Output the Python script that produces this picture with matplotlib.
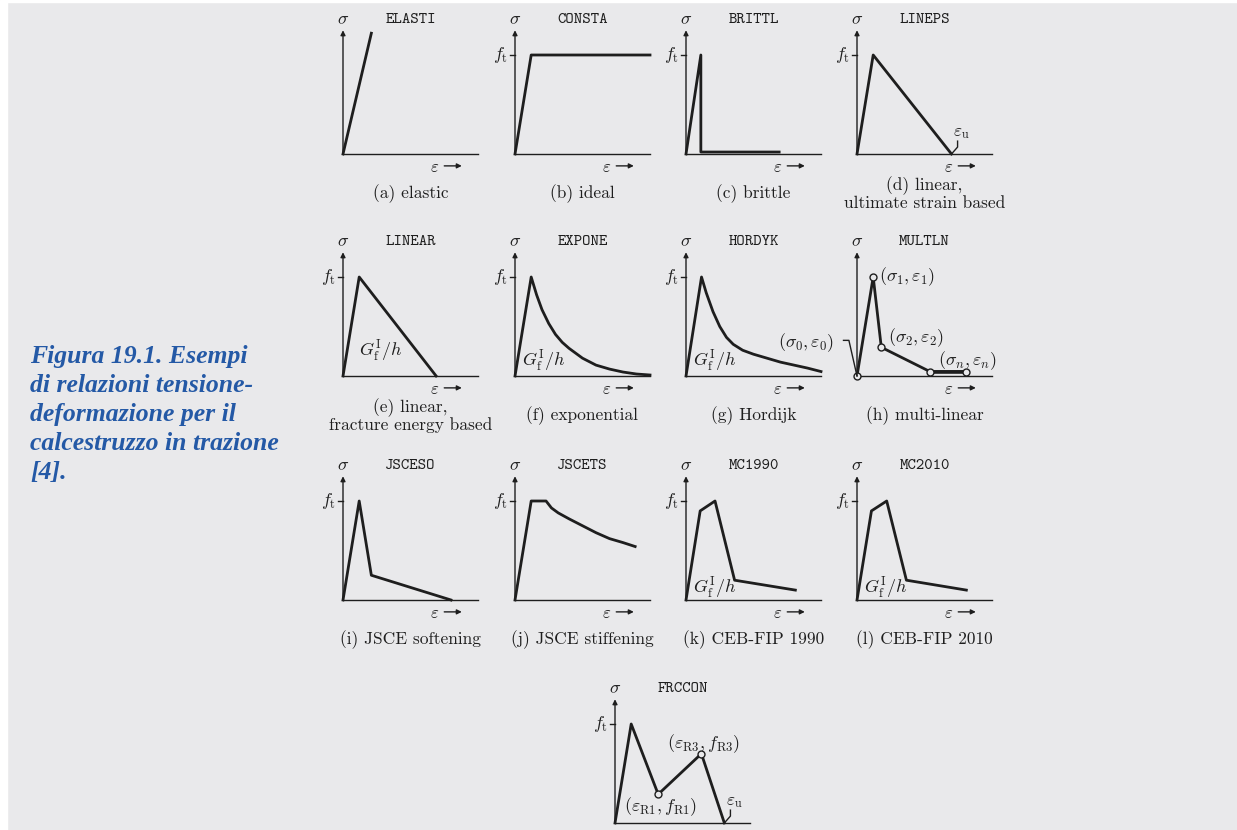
import matplotlib.pyplot as plt
from matplotlib.patches import Rectangle

plt.rcParams['mathtext.fontset'] = 'cm'

# --- data (x: strain, scaled so the axis is 1 long; y: stress, f_t = 1) ---
elasti_x = [0, 0.21]
elasti_y = [0, 1.22]
consta_x = [0, 0.12, 1.0]
consta_y = [0, 1, 1]
brittl_x = [0, 0.11, 0.11, 0.69]
brittl_y = [0, 1, 0.02, 0.02]
lineps_x = [0, 0.12, 0.70]
lineps_y = [0, 1, 0]
linear_x = [0, 0.12, 0.69]
linear_y = [0, 1, 0]
expone_x = [0, 0.12, 0.16, 0.20, 0.25, 0.30, 0.35, 0.40, 0.50, 0.60, 0.70, 0.80, 0.90, 1.0]
expone_y = [0, 1, 0.82, 0.67, 0.53, 0.42, 0.34, 0.28, 0.18, 0.11, 0.07, 0.04, 0.02, 0.01]
hordyk_x = [0, 0.115, 0.15, 0.20, 0.25, 0.30, 0.35, 0.42, 0.50, 0.60, 0.70, 0.80, 0.90, 1.0]
hordyk_y = [0, 1, 0.84, 0.65, 0.50, 0.39, 0.32, 0.26, 0.22, 0.18, 0.14, 0.11, 0.08, 0.045]
multln_x = [0, 0.12, 0.18, 0.54, 0.805]
multln_y = [0, 1, 0.29, 0.045, 0.045]
jsceso_x = [0, 0.12, 0.21, 0.80]
jsceso_y = [0, 1, 0.25, 0]
jscets_x = [0, 0.12, 0.23, 0.27, 0.32, 0.40, 0.50, 0.60, 0.70, 0.80, 0.89]
jscets_y = [0, 1, 1, 0.93, 0.88, 0.82, 0.75, 0.68, 0.62, 0.58, 0.54]
mc1990_x = [0, 0.105, 0.215, 0.36, 0.81]
mc1990_y = [0, 0.90, 1, 0.20, 0.10]
mc2010_x = [0, 0.107, 0.22, 0.366, 0.81]
mc2010_y = [0, 0.90, 1, 0.20, 0.10]
frccon_x = [0, 0.12, 0.32, 0.64, 0.81]
frccon_y = [0, 1, 0.29, 0.70, 0]

titles = ['ELASTI', 'CONSTA', 'BRITTL', 'LINEPS',
          'LINEAR', 'EXPONE', 'HORDYK', 'MULTLN',
          'JSCESO', 'JSCETS', 'MC1990', 'MC2010', 'FRCCON']
captions = ['(a) elastic', '(b) ideal', '(c) brittle', '(d) linear,\nultimate strain based',
            '(e) linear,\nfracture energy based', '(f) exponential', '(g) Hordijk', '(h) multi-linear',
            '(i) JSCE softening', '(j) JSCE stiffening', '(k) CEB-FIP 1990', '(l) CEB-FIP 2010', None]
side_text = ['Figura 19.1. Esempi', 'di relazioni tensione-', 'deformazione per il',
             'calcestruzzo in trazione', '[4].']

W, H = 1237, 830
ink = '#1e1e1e'
bg = '#e9e9eb'
blue = '#2459a6'

fig = plt.figure(figsize=(W / 100, H / 100), dpi=100, facecolor=bg)
fig.patches.append(Rectangle((0, 0), 7 / W, 1, transform=fig.transFigure, color='white', zorder=0))
fig.patches.append(Rectangle((0, 1 - 2 / H), 1, 2 / H, transform=fig.transFigure, color='white', zorder=0))

# pixel origin (y axis x-position, x axis y-position) of every panel
cols = [343, 515, 686, 857]
rows = [154, 376, 600]
origins = [(c, r) for r in rows for c in cols] + [(615, 823)]


def panel(i, ft=True, eps=True):
    x0, y0 = origins[i]
    ax = fig.add_axes([x0 / W, 1 - y0 / H, 135 / W, 99 / H])
    ax.set_xlim(0, 1)
    ax.set_ylim(0, 1)
    ax.axis('off')
    ax.annotate('', xy=(0, 1.25), xytext=(0, 0), annotation_clip=False,
                arrowprops=dict(arrowstyle='-|>', lw=1, color=ink, mutation_scale=7,
                                shrinkA=0, shrinkB=0))
    ax.plot([0, 1], [0, 0], color=ink, lw=1, clip_on=False)
    ax.text(0, 1.36, r'$\sigma$', ha='center', va='center', fontsize=13, color=ink)
    ax.text(0.5, 1.35, titles[i], ha='center', va='center', family='cmtt10', fontsize=11.5, color=ink)
    if ft:
        ax.plot([-0.035, 0], [1, 1], color=ink, lw=1, clip_on=False)
        ax.text(-0.05, 1, r'$f_\mathrm{t}$', ha='right', va='center', fontsize=13, color=ink)
    if eps:
        ax.text(0.68, -0.13, r'$\varepsilon$', ha='center', va='center', fontsize=12, color=ink)
        ax.annotate('', xy=(0.88, -0.12), xytext=(0.75, -0.12), annotation_clip=False,
                    arrowprops=dict(arrowstyle='-|>', lw=1, color=ink, mutation_scale=7,
                                    shrinkA=0, shrinkB=0))
    if captions[i]:
        ax.text(0.5, -0.40, captions[i], ha='center', va='center', family='cmr10',
                fontsize=12.5, color=ink, linespacing=1.05)
    return ax


def curve(ax, x, y, **kw):
    ax.plot(x, y, color=ink, lw=2, clip_on=False, **kw)


def gf_label(ax, x, y):
    ax.text(x, y, r'$G_\mathrm{f}^\mathrm{I}/h$', ha='left', va='center', fontsize=13, color=ink)


def eps_u(ax, x, y):
    ax.text(x + 0.01, y + 0.22, r'$\varepsilon_\mathrm{u}$', ha='left', va='center', fontsize=12.5, color=ink)
    ax.plot([x + 0.045, x + 0.045, x], [y + 0.13, y + 0.07, y], color=ink, lw=1, clip_on=False)


ax = panel(0, ft=False)
curve(ax, elasti_x, elasti_y)

ax = panel(1)
curve(ax, consta_x, consta_y)

ax = panel(2)
curve(ax, brittl_x, brittl_y)

ax = panel(3)
curve(ax, lineps_x, lineps_y)
eps_u(ax, lineps_x[-1], lineps_y[-1])

ax = panel(4)
curve(ax, linear_x, linear_y)
gf_label(ax, 0.12, 0.25)

ax = panel(5)
curve(ax, expone_x, expone_y)
gf_label(ax, 0.05, 0.15)

ax = panel(6)
curve(ax, hordyk_x, hordyk_y)
gf_label(ax, 0.05, 0.15)

ax = panel(7, ft=False)
curve(ax, multln_x, multln_y)
ax.plot(multln_x[-2:], multln_y[-2:], color=ink, lw=2.6, clip_on=False)
ax.plot(multln_x, multln_y, 'o', ms=5, mfc=bg, mec=ink, mew=1, clip_on=False)
ax.text(0.16, 1.0, r'$(\sigma_1,\varepsilon_1)$', ha='left', va='center', fontsize=13, color=ink)
ax.text(0.23, 0.39, r'$(\sigma_2,\varepsilon_2)$', ha='left', va='center', fontsize=13, color=ink)
ax.text(0.60, 0.16, r'$(\sigma_n,\varepsilon_n)$', ha='left', va='center', fontsize=13, color=ink)
ax.text(-0.17, 0.34, r'$(\sigma_0,\varepsilon_0)$', ha='right', va='center', fontsize=13, color=ink)
ax.plot([-0.1, -0.06, 0], [0.36, 0.36, 0], color=ink, lw=1, clip_on=False)

ax = panel(8)
curve(ax, jsceso_x, jsceso_y)

ax = panel(9)
curve(ax, jscets_x, jscets_y)

ax = panel(10)
curve(ax, mc1990_x, mc1990_y)
gf_label(ax, 0.05, 0.12)

ax = panel(11)
curve(ax, mc2010_x, mc2010_y)
gf_label(ax, 0.05, 0.12)

ax = panel(12, eps=False)
curve(ax, frccon_x, frccon_y)
ax.plot([frccon_x[2], frccon_x[3]], [frccon_y[2], frccon_y[3]], 'o', ms=5, mfc=bg,
        mec=ink, mew=1, clip_on=False)
ax.text(0.385, 0.80, r'$(\varepsilon_\mathrm{R3},f_\mathrm{R3})$', ha='left', va='center',
        fontsize=13, color=ink)
ax.text(0.07, 0.17, r'$(\varepsilon_\mathrm{R1},f_\mathrm{R1})$', ha='left', va='center',
        fontsize=13, color=ink)
eps_u(ax, frccon_x[-1], frccon_y[-1])

# side caption
for k, line in enumerate(side_text):
    fig.text(30 / W, 1 - (356 + 29 * k) / H, line, ha='left', va='center',
             family='Liberation Serif', style='italic', weight='bold', fontsize=18.5, color=blue)

fig.savefig('out.png', dpi=100, facecolor=bg)
